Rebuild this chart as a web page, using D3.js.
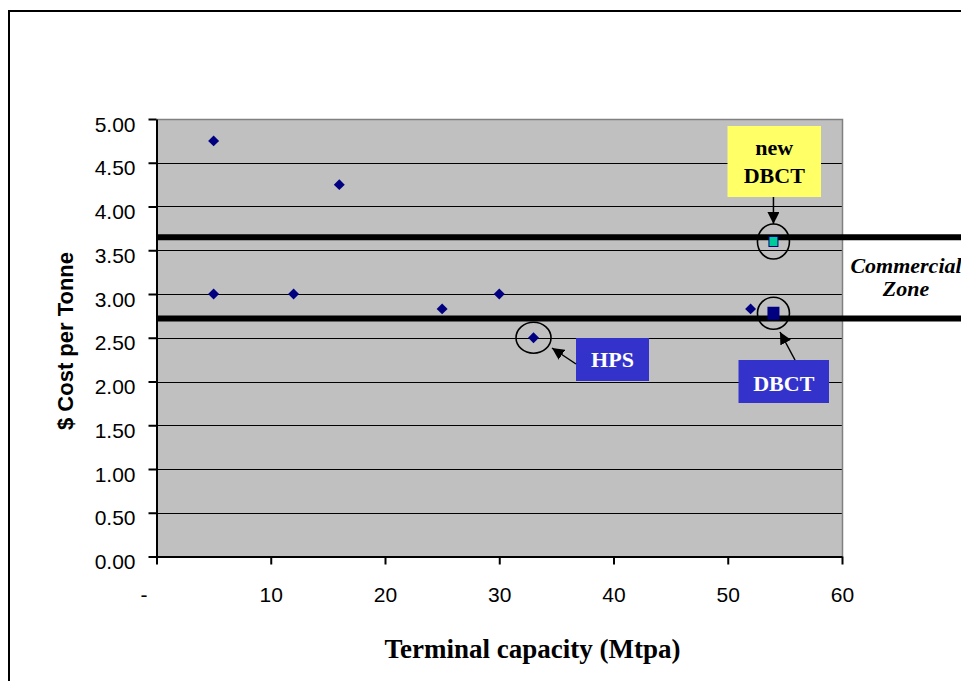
<!DOCTYPE html>
<html>
<head>
<meta charset="utf-8">
<script src="https://cdn.jsdelivr.net/npm/d3@7"></script>
<style>
  html, body { margin: 0; padding: 0; background: #fff; }
  svg { display: block; }
  .tick text { font-family: "Liberation Sans", Arial, sans-serif; font-size: 21px; fill: #000; }
</style>
</head>
<body>
<div id="chart"></div>
<script>
// ─────────────────────────────────────────────
// DATA
// ─────────────────────────────────────────────
const capacity = [5, 5, 12, 16, 25, 30, 33, 52];          // Mtpa
const cost = [4.75, 3.00, 3.00, 4.25, 2.83, 3.00, 2.50, 2.83]; // $ / t
const dbctPoint = { x: 54, y: 2.78, label: "DBCT" };
const newDbctPoint = { x: 54, y: 3.60, label: ["new", "DBCT"] };
const hpsIndex = 6;                                     // the HPS terminal
const zoneBounds = [2.72, 3.65];                        // commercial zone
const zoneLabel = ["Commercial", "Zone"];
const yTicks = [0, 0.5, 1, 1.5, 2, 2.5, 3, 3.5, 4, 4.5, 5];
const xTicks = [0, 10, 20, 30, 40, 50, 60];
const xTitle = "Terminal capacity (Mtpa)";
const yTitle = "$ Cost per Tonne";

(function () {
    "use strict";

    const W = 961, H = 681;
    const C = {
        plot: "#c0c0c0",
        marker: "#000080",
        teal: "#00cc99",
        yellow: "#ffff66",
        blue: "#3333cc",
        border: "#808080",
    };
    const serif = "'Liberation Serif', 'Times New Roman', serif";
    const sans = "'Liberation Sans', Arial, sans-serif";

    const x = d3.scaleLinear().domain([0, 60]).range([156.5, 842]);
    const y = d3.scaleLinear().domain([0, 5]).range([556.5, 119]);
    const crisp = v => Math.round(v) + 0.5;

    const svg = d3.select("#chart").append("svg")
        .attr("width", W).attr("height", H);

    svg.append("rect").attr("width", W).attr("height", H).attr("fill", "#fff");

    // outer frame (runs off the right and bottom edges)
    svg.append("rect")
        .attr("x", 9).attr("y", 11)
        .attr("width", 1000).attr("height", 1000)
        .attr("fill", "none").attr("stroke", "#000").attr("stroke-width", 2);

    defs();

    // ── plot area ─────────────────────────────────
    svg.append("rect")
        .attr("x", x(0)).attr("y", y(5))
        .attr("width", x(60) - x(0)).attr("height", y(0) - y(5))
        .attr("fill", C.plot);

    svg.append("g").selectAll("line")
        .data(yTicks.filter(d => d > 0 && d < 5))
        .join("line")
        .attr("x1", x(0)).attr("x2", x(60))
        .attr("y1", d => crisp(y(d))).attr("y2", d => crisp(y(d)))
        .attr("stroke", "#000").attr("stroke-width", 1);

    svg.append("path")
        .attr("d", `M${x(0)},${crisp(y(5))}H${crisp(x(60))}V${y(0)}`)
        .attr("fill", "none").attr("stroke", C.border).attr("stroke-width", 1.5);

    // ── axes ──────────────────────────────────────
    const yAxis = svg.append("g")
        .attr("transform", `translate(${x(0)},0)`)
        .call(d3.axisLeft(y).tickValues(yTicks).tickFormat(d3.format(".2f"))
            .tickSize(8).tickSizeOuter(0).tickPadding(13));
    yAxis.selectAll(".tick text").attr("dy", "0.58em");

    const xAxis = svg.append("g")
        .attr("transform", `translate(0,${y(0)})`)
        .call(d3.axisBottom(x).tickValues(xTicks).tickFormat(d => d === 0 ? "-" : d)
            .tickSize(8).tickSizeOuter(0).tickPadding(23));
    xAxis.selectAll(".tick text").filter(d => d === 0).attr("dx", -13);

    svg.selectAll(".domain").attr("stroke", "#000").attr("stroke-width", 2);
    svg.selectAll(".tick line").attr("stroke", "#000").attr("stroke-width", 2);

    // ── commercial zone lines ─────────────────────
    svg.append("g").selectAll("line")
        .data(zoneBounds)
        .join("line")
        .attr("x1", x(0)).attr("x2", W + 5)
        .attr("y1", d => y(d)).attr("y2", d => y(d))
        .attr("stroke", "#000").attr("stroke-width", 6);

    // ── markers ───────────────────────────────────
    const diamond = d3.symbol(d3.symbolSquare, 60)();
    svg.append("g").selectAll("path")
        .data(capacity.map((c, i) => [c, cost[i]]))
        .join("path")
        .attr("d", diamond)
        .attr("transform", d => `translate(${x(d[0])},${y(d[1])}) rotate(45)`)
        .attr("fill", C.marker);

    svg.append("rect")
        .attr("x", x(dbctPoint.x) - 6).attr("y", y(dbctPoint.y) - 6.5)
        .attr("width", 12).attr("height", 13)
        .attr("fill", C.marker);

    svg.append("rect")
        .attr("x", x(newDbctPoint.x) - 4.5).attr("y", y(newDbctPoint.y) - 5)
        .attr("width", 9).attr("height", 10)
        .attr("fill", C.teal).attr("stroke", C.marker).attr("stroke-width", 1);

    // ── rings round the highlighted points ────────
    const rings = [
        { cx: x(capacity[hpsIndex]), cy: y(cost[hpsIndex]), rx: 17.5, ry: 15.5 },
        { cx: x(newDbctPoint.x), cy: y(newDbctPoint.y), rx: 16, ry: 17.5 },
        { cx: x(dbctPoint.x), cy: y(dbctPoint.y), rx: 16, ry: 16 },
    ];
    svg.append("g").selectAll("ellipse")
        .data(rings)
        .join("ellipse")
        .attr("cx", d => d.cx).attr("cy", d => d.cy)
        .attr("rx", d => d.rx).attr("ry", d => d.ry)
        .attr("fill", "none").attr("stroke", "#000").attr("stroke-width", 1.6);

    // ── callout boxes ─────────────────────────────
    // new DBCT (yellow)
    callout(727.5, 126, 93.5, 71, C.yellow, "#000", newDbctPoint.label, [155, 182.5]);
    arrow(x(newDbctPoint.x), 197, x(newDbctPoint.x), 224);

    // DBCT (blue)
    callout(738.5, 360, 90.5, 43, C.blue, "#fff", [dbctPoint.label], [391]);
    arrow(795, 360, 780, 332);

    // HPS (blue)
    callout(576, 338, 73, 43, C.blue, "#fff", ["HPS"], [367]);
    arrow(576, 364, 552, 348);

    // ── commercial zone label ─────────────────────
    svg.append("text")
        .attr("font-family", serif).attr("font-size", 22)
        .attr("font-weight", "bold").attr("font-style", "italic")
        .attr("text-anchor", "middle")
        .selectAll("tspan")
        .data(zoneLabel)
        .join("tspan")
        .attr("x", 906)
        .attr("y", (d, i) => 272.5 + i * 23.5)
        .text(d => d);

    // ── axis titles ───────────────────────────────
    svg.append("text")
        .attr("x", 532.5).attr("y", 658)
        .attr("text-anchor", "middle")
        .attr("font-family", serif).attr("font-size", 27).attr("font-weight", "bold")
        .text(xTitle);

    svg.append("text")
        .attr("transform", "translate(73,341) rotate(-90)")
        .attr("text-anchor", "middle")
        .attr("font-family", sans).attr("font-size", 22).attr("font-weight", "bold")
        .text(yTitle);

    // ── helpers ───────────────────────────────────
    function defs() {
        svg.append("defs").append("marker")
            .attr("id", "head")
            .attr("viewBox", "0 0 12 12")
            .attr("refX", 12).attr("refY", 6)
            .attr("markerWidth", 12).attr("markerHeight", 12)
            .attr("markerUnits", "userSpaceOnUse")
            .attr("orient", "auto")
            .append("path")
            .attr("d", "M0,0L12,6L0,12Z")
            .attr("fill", "#000");
    }

    function arrow(x1, y1, x2, y2) {
        svg.append("line")
            .attr("x1", x1).attr("y1", y1).attr("x2", x2).attr("y2", y2)
            .attr("stroke", "#000").attr("stroke-width", 1.5)
            .attr("marker-end", "url(#head)");
    }

    function callout(bx, by, bw, bh, fill, ink, lines, baselines) {
        const g = svg.append("g");
        g.append("rect")
            .attr("x", bx).attr("y", by).attr("width", bw).attr("height", bh)
            .attr("fill", fill);
        g.selectAll("text")
            .data(lines)
            .join("text")
            .attr("x", bx + bw / 2)
            .attr("y", (d, i) => baselines[i])
            .attr("text-anchor", "middle")
            .attr("font-family", serif).attr("font-size", 22).attr("font-weight", "bold")
            .attr("fill", ink)
            .text(d => d);
    }
})();
</script>
</body>
</html>
